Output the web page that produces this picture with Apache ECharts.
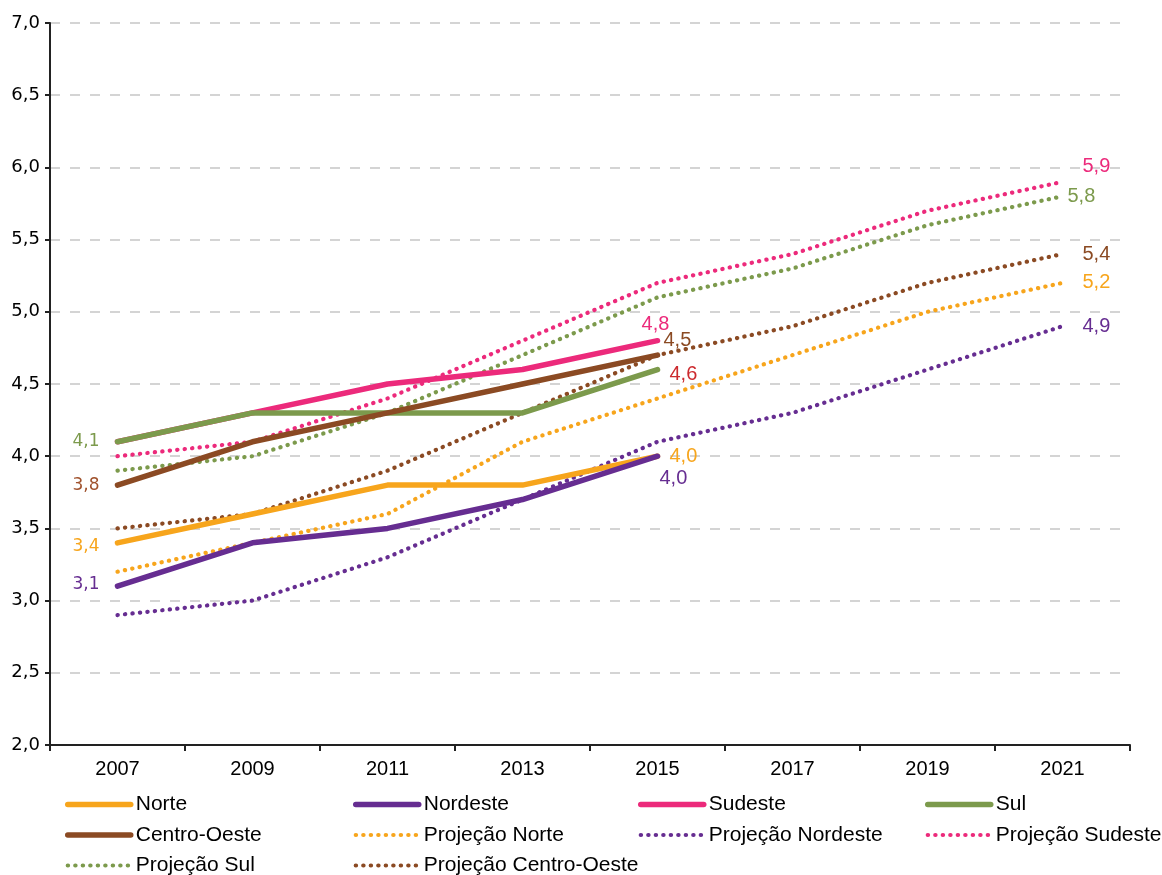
<!DOCTYPE html>
<html><head><meta charset="utf-8">
<script src="https://cdn.jsdelivr.net/npm/echarts@6/dist/echarts.min.js"></script>
<style>html,body{margin:0;padding:0;background:#fff}#c{width:1162px;height:875px}</style>
</head><body><div id="c"></div>
<script>
// ---- data ----
const years = ['2007','2009','2011','2013','2015','2017','2019','2021'];
const seriesNames = ['Norte','Nordeste','Sudeste','Sul','Centro-Oeste',
  'Projeção Norte','Projeção Nordeste','Projeção Sudeste','Projeção Sul','Projeção Centro-Oeste'];
const norte       = [3.4, 3.6, 3.8, 3.8, 4.0];
const nordeste    = [3.1, 3.4, 3.5, 3.7, 4.0];
const sudeste     = [4.1, 4.3, 4.5, 4.6, 4.8];
const sul         = [4.1, 4.3, 4.3, 4.3, 4.6];
const centroOeste = [3.8, 4.1, 4.3, 4.5, 4.7];
const projNorte       = [3.2, 3.4, 3.6, 4.1, 4.4, 4.7, 5.0, 5.2];
const projNordeste    = [2.9, 3.0, 3.3, 3.7, 4.1, 4.3, 4.6, 4.9];
const projSudeste     = [4.0, 4.1, 4.4, 4.8, 5.2, 5.4, 5.7, 5.9];
const projSul         = [3.9, 4.0, 4.3, 4.7, 5.1, 5.3, 5.6, 5.8];
const projCentroOeste = [3.5, 3.6, 3.9, 4.3, 4.7, 4.9, 5.2, 5.4];
// label texts as printed on the original chart
const startLabelText = ['3,4', '3,1', '', '4,1', '3,8'];
const endLabelText   = ['4,0', '4,0', '4,8', '4,6', '4,5'];
const projEndLabelText = ['5,2', '4,9', '5,9', '5,8', '5,4'];

// ---- styles ----
const colors = ['#F7A51C', '#662D91', '#EC2A7B', '#7C9A4C', '#8B4A23'];
const endLabelColors = ['#F7A51C', '#662D91', '#EC2A7B', '#CC2A2E', '#8B4A23'];
const startLabelColors = ['#F7A51C', '#662D91', '#EC2A7B', '#7C9A4C', '#A0522D'];
const endLabelPos = [
  {position: 'right', distance: 12, offset: [0, 0]},
  {position: 'right', distance: 2, offset: [0, 22]},
  {position: 'top', distance: 6, offset: [-2, 0]},
  {position: 'right', distance: 12, offset: [0, 5]},
  {position: 'right', distance: 6, offset: [0, -15]}
];
const startLabelOffset = [[0, 4], [0, -2], [0, 0], [0, 0], [0, 0]];
const projEndPos = [
  {distance: 20, offset: [0, 0]},
  {distance: 20, offset: [0, 0]},
  {distance: 20, offset: [0, -15]},
  {distance: 5, offset: [0, 0]},
  {distance: 20, offset: [0, 0]}
];
const calib = 'Liberation Sans';
const solidVals = [norte, nordeste, sudeste, sul, centroOeste];
const projVals = [projNorte, projNordeste, projSudeste, projSul, projCentroOeste];
const solidOrder = [0, 1, 2, 4, 3]; // draw Sul above Sudeste

const series = [];
projVals.forEach((vals, i) => {
  series.push({
    name: seriesNames[5 + i], type: 'line', symbol: 'circle', symbolSize: 0, showSymbol: true, z: 2,
    lineStyle: {color: colors[i], width: 4.2, type: [0.3, 7.2], cap: 'round'},
    itemStyle: {color: colors[i]},
    emphasis: {disabled: true},
    data: vals.map((v, k) => k === vals.length - 1 ? {
      value: v,
      label: {show: true, position: 'right', distance: projEndPos[i].distance, offset: projEndPos[i].offset,
        formatter: projEndLabelText[i], color: colors[i], fontFamily: calib, fontSize: 20}
    } : v)
  });
});
solidOrder.forEach((i) => {
  const vals = solidVals[i];
  series.push({
    name: seriesNames[i], type: 'line', symbol: 'circle', symbolSize: 0, showSymbol: true, z: 3 + i,
    lineStyle: {color: colors[i], width: 5.5, cap: 'round', join: 'round'},
    itemStyle: {color: colors[i]},
    emphasis: {disabled: true},
    data: vals.map((v, k) => {
      if (k === 0 && startLabelText[i]) return {
        value: v,
        label: {show: true, position: 'left', distance: 18, offset: startLabelOffset[i],
          formatter: startLabelText[i], color: startLabelColors[i], fontFamily: 'DejaVu Sans', fontSize: 17}
      };
      if (k === vals.length - 1) return {
        value: v,
        label: Object.assign({show: true, formatter: endLabelText[i], color: endLabelColors[i],
          fontFamily: calib, fontSize: 20}, endLabelPos[i])
      };
      return v;
    })
  });
});

const legendCols = [
  {left: 65, items: ['Norte', 'Centro-Oeste', 'Projeção Sul']},
  {left: 353, items: ['Nordeste', 'Projeção Norte', 'Projeção Centro-Oeste']},
  {left: 638, items: ['Sudeste', 'Projeção Nordeste']},
  {left: 925, items: ['Sul', 'Projeção Sudeste']}
];

const option = {
  animation: false,
  backgroundColor: '#fff',
  grid: {left: 50, right: 32, top: 23, bottom: 130, containLabel: false},
  xAxis: {
    type: 'category', data: years, boundaryGap: true,
    axisLine: {lineStyle: {color: '#222', width: 2}},
    axisTick: {show: true, length: 6, lineStyle: {color: '#222', width: 2}},
    axisLabel: {color: '#000', fontFamily: calib, fontSize: 20, margin: 14},
    splitLine: {show: false}
  },
  yAxis: {
    type: 'value', min: 2, max: 7, interval: 0.5,
    axisLine: {show: true, lineStyle: {color: '#222', width: 2}},
    axisTick: {show: true, length: 5, lineStyle: {color: '#222', width: 2}},
    axisLabel: {color: '#000', fontFamily: 'DejaVu Sans', fontSize: 18, margin: 10,
      formatter: v => v.toFixed(1).replace('.', ',')},
    splitLine: {show: true, lineStyle: {color: '#D4D4D4', width: 2, type: [10, 10]}}
  },
  legend: legendCols.map(c => ({
    orient: 'vertical', left: c.left, top: 794, padding: 0, height: 120, width: 260,
    itemWidth: 63, itemHeight: 20, itemGap: 9.5,
    data: c.items, selectedMode: false,
    textStyle: {fontFamily: calib, fontSize: 21, lineHeight: 20, color: '#000'},
    itemStyle: {opacity: 0},
    lineStyle: {width: 'inherit'}
  })),
  series: series
};
const chart = echarts.init(document.getElementById('c'), null, {renderer: 'canvas'});
chart.setOption(option);
</script></body></html>
